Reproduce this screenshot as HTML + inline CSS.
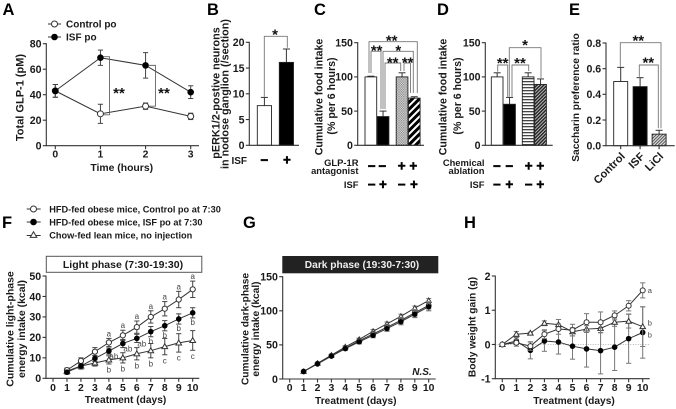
<!DOCTYPE html>
<html lang="en">
<head>
<meta charset="utf-8">
<title>Multi-panel figure</title>
<style>
html,body{margin:0;padding:0;background:#fff;width:676px;height:409px;overflow:hidden}
svg{display:block;filter:blur(.3px)}
text{font-family:"Liberation Sans",sans-serif;font-weight:bold;fill:#1a1a1a}
.ttl{font-size:10.6px}
.xt{font-size:10.2px;text-anchor:middle}
.let{font-size:16.5px;fill:#000}
.row{font-size:9.4px;text-anchor:end}
.sign{font-size:13.5px;text-anchor:middle;fill:#000;stroke:#000;stroke-width:.5px}
.star{font-size:15px;text-anchor:middle;fill:#111}
</style>
</head>
<body>
<svg id="figure" xmlns="http://www.w3.org/2000/svg" width="676" height="409" viewBox="0 0 676 409">
<defs>
<pattern id="pat-dots" width="2.4" height="2.4" patternUnits="userSpaceOnUse"><rect width="2.4" height="2.4" fill="#e4e4e4"/><rect width="1.2" height="1.2" fill="#777"/><rect x="1.2" y="1.2" width="1.2" height="1.2" fill="#888"/></pattern>
<pattern id="pat-diag-wide" width="5" height="5" patternUnits="userSpaceOnUse" patternTransform="rotate(45)"><rect width="5" height="5" fill="#fff"/><rect width="3" height="5" fill="#000"/></pattern>
<pattern id="pat-hlines" width="3" height="3" patternUnits="userSpaceOnUse"><rect width="3" height="3" fill="#fff"/><rect width="3" height="1.3" fill="#444"/></pattern>
<pattern id="pat-diag-dense" width="2.4" height="2.4" patternUnits="userSpaceOnUse" patternTransform="rotate(45)"><rect width="2.4" height="2.4" fill="#bbb"/><rect width="1.4" height="2.4" fill="#222"/></pattern>
<pattern id="pat-diag-gray" width="2.2" height="2.2" patternUnits="userSpaceOnUse" patternTransform="rotate(45)"><rect width="2.2" height="2.2" fill="#ddd"/><rect width="1" height="2.2" fill="#555"/></pattern>
</defs>

<text class="let" x="2.5" y="15">A</text>
<text class="let" x="207" y="15">B</text>
<text class="let" x="314" y="15">C</text>
<text class="let" x="437" y="15">D</text>
<text class="let" x="569" y="15">E</text>
<text class="let" x="2" y="228">F</text>
<text class="let" x="243" y="228">G</text>
<text class="let" x="464" y="228">H</text>

<text class="ttl" text-anchor="middle" transform="translate(23.5 97.5) rotate(-90)" style="font-size:11px">Total GLP-1 (pM)</text>
<text class="ttl" text-anchor="middle" x="121.7" y="171" style="font-size:10.4px">Time (hours)</text>
<text x="66" y="27.5" style="font-size:10px">Control po</text>
<text x="66" y="40.5" style="font-size:10px">ISF po</text>

<text class="ttl" text-anchor="middle" transform="translate(219.5 93) rotate(-90)" style="font-size:10.8px">pERK1/2-postive neurons</text>
<text class="ttl" text-anchor="middle" transform="translate(228.5 94) rotate(-90)" style="font-size:10.8px">in nodose ganglion (/section)</text>
<text class="row" x="247" y="164" style="font-size:10px">ISF</text>
<text class="sign" x="264.3" y="164.5">−</text>
<text class="sign" x="287" y="164.5">+</text>

<text class="ttl" text-anchor="middle" transform="translate(322.5 97) rotate(-90)">Cumulative food intake</text>
<text class="ttl" text-anchor="middle" transform="translate(335 96) rotate(-90)">(% per 6 hours)</text>
<text class="row" x="358.5" y="166">GLP-1R</text>
<text class="row" x="358.5" y="174">antagonist</text>
<text class="row" x="358.5" y="188">ISF</text>
<g>
<text class="sign" x="371.7" y="170.5">−</text><text class="sign" x="382.3" y="170.5">−</text><text class="sign" x="401.7" y="170.5">+</text><text class="sign" x="413.3" y="170.5">+</text>
<text class="sign" x="371.7" y="189">−</text><text class="sign" x="383" y="189">+</text><text class="sign" x="401.7" y="189">−</text><text class="sign" x="414" y="189">+</text>
</g>

<text class="ttl" text-anchor="middle" transform="translate(446.5 97) rotate(-90)">Cumulative food intake</text>
<text class="ttl" text-anchor="middle" transform="translate(461 96) rotate(-90)">(% per 6 hours)</text>
<text class="row" x="484.5" y="166">Chemical</text>
<text class="row" x="484.5" y="174">ablation</text>
<text class="row" x="484.5" y="188">ISF</text>
<g>
<text class="sign" x="497" y="170.5">−</text><text class="sign" x="509.3" y="170.5">−</text><text class="sign" x="528.7" y="170.5">+</text><text class="sign" x="540.3" y="170.5">+</text>
<text class="sign" x="497" y="189">−</text><text class="sign" x="509.3" y="189">+</text><text class="sign" x="528.7" y="189">−</text><text class="sign" x="540.3" y="189">+</text>
</g>

<text class="ttl" text-anchor="middle" transform="translate(579 97.5) rotate(-90)" style="font-size:10.2px">Saccharin preference ratio</text>

<text x="49.3" y="212.5" style="font-size:9.2px">HFD-fed obese mice, Control po at 7:30</text>
<text x="49.3" y="225.5" style="font-size:9.2px">HFD-fed obese mice, ISF po at 7:30</text>
<text x="49.3" y="238.5" style="font-size:9.2px">Chow-fed lean mice, no injection</text>

<rect x="46.3" y="256.3" width="155.5" height="16" fill="#fff" stroke="#555" stroke-width="1"/>
<text text-anchor="middle" x="123" y="268" style="font-size:10.5px">Light phase (7:30-19:30)</text>
<text class="ttl" text-anchor="middle" transform="translate(13.5 329) rotate(-90)" style="font-size:10.5px">Cumulative light-phase</text>
<text class="ttl" text-anchor="middle" transform="translate(25 329) rotate(-90)" style="font-size:10.5px">energy intake (kcal)</text>
<text class="xt" x="125.5" y="403">Treatment (days)</text>

<rect x="282.3" y="256" width="156" height="17.3" fill="#222"/>
<text text-anchor="middle" x="362" y="268" style="font-size:10.2px;fill:#eee">Dark phase (19:30-7:30)</text>
<text class="ttl" text-anchor="middle" transform="translate(248.5 329) rotate(-90)" style="font-size:10.2px">Cumulative dark-phase</text>
<text class="ttl" text-anchor="middle" transform="translate(259 329) rotate(-90)" style="font-size:10.2px">energy intake (kcal)</text>
<text class="xt" x="355.8" y="404">Treatment (days)</text>
<text text-anchor="middle" x="422" y="375" style="font-size:10px;font-style:italic">N.S.</text>

<text class="ttl" text-anchor="middle" transform="translate(475.5 327) rotate(-90)" style="font-size:10.2px">Body weight gain (g)</text>
<text class="xt" x="574" y="404">Treatment (days)</text>
</svg>

<script>
/* Panel A */
const aTimes = [0, 1, 2, 3];
const aControl = [43, 25, 31, 23];
const aControlErr = [5, 7.5, 2.5, 2.5];
const aIsf = [43, 69, 63, 42];
const aIsfErr = [5, 6, 10, 5];
const aYTicks = [0, 20, 40, 60, 80];
/* Panel B */
const bValues = [7.7, 16.1];
const bErrors = [1.6, 2.6];
const bYTicks = [0, 5, 10, 15, 20];
/* Panel C */
const cValues = [100, 42, 100, 69];
const cErrors = [1, 8, 6, 2];
const cYTicks = [0, 50, 100, 150];
/* Panel D */
const dValues = [100, 60, 100, 89];
const dErrors = [6, 10, 6, 8];
const dYTicks = [0, 50, 100, 150];
/* Panel E */
const eCategories = ['Control', 'ISF', 'LiCl'];
const eValues = [0.5, 0.46, 0.09];
const eErrors = [0.11, 0.07, 0.03];
const eYTicks = ['0.0', '0.2', '0.4', '0.6', '0.8'];
/* Panel F */
const dayTicks = [0, 1, 2, 3, 4, 5, 6, 7, 8, 9, 10];
const fDays = [1, 2, 3, 4, 5, 6, 7, 8, 9, 10];
const fControl = [4, 8.5, 13, 17.5, 21, 25, 30, 34, 38.5, 43.5];
const fControlErr = [1, 1.5, 2, 2, 2.5, 3, 3, 3.5, 4, 4];
const fIsf = [3, 6, 9.7, 13.3, 17, 19.5, 22.8, 25.7, 29, 32];
const fIsfErr = [1, 1, 1.5, 1.5, 2, 2, 2.5, 2.5, 2.5, 2.5];
const fChow = [3.5, 6, 7.5, 9, 10, 12, 13.5, 15.5, 17.3, 18.5];
const fChowErr = [1, 1.5, 1.5, 2, 2.5, 3, 3.5, 4, 4.5, 4.8];
const fControlLetters = ['', '', '', 'a', 'a', 'a', 'a', 'a', 'a', 'a'];
const fIsfLetters = ['', '', '', 'ab', 'ab', 'ab', 'b', 'b', 'b', 'b'];
const fChowLetters = ['', '', '', 'b', 'b', 'b', 'b', 'c', 'c', 'c'];
const fYTicks = [0, 10, 20, 30, 40, 50];
/* Panel G */
const gControl = [11, 22.5, 34, 45, 56, 66, 76, 86, 97, 108];
const gControlErr = [1, 1.5, 2, 2.5, 3, 3.5, 4, 4.5, 5, 5.5];
const gIsf = [11, 22, 33.5, 44.5, 54.5, 64, 74, 84, 95, 106];
const gIsfErr = [1, 1.5, 2, 2.5, 3, 3.5, 4, 4.5, 5, 6];
const gChow = [11, 23, 35, 47, 58, 70, 81, 92, 104, 115];
const gChowErr = [1, 1, 1.5, 2, 2, 2.5, 2.5, 3, 3, 3];
const gYTicks = [0, 50, 100, 150];
/* Panel H */
const hControl = [0, 0.05, -0.05, 0.3, 0.45, 0.42, 0.65, 0.65, 0.85, 1.13, 1.58];
const hControlErr = [0, 0.1, 0.12, 0.13, 0.15, 0.17, 0.25, 0.3, 0.13, 0.15, 0.22];
const hIsf = [0, 0.1, -0.17, 0.1, 0.07, -0.05, -0.13, -0.18, -0.08, 0.17, 0.35];
const hIsfErr = [0, 0.1, 0.25, 0.3, 0.35, 0.38, 0.53, 0.68, 0.68, 0.72, 0.75];
const hChow = [0, 0.3, 0.33, 0.62, 0.58, 0.37, 0.45, 0.47, 0.65, 0.68, 0.52];
const hChowErr = [0, 0.08, 0.03, 0.07, 0.15, 0.12, 0.1, 0.13, 0.12, 0.2, 0.58];
const hYTicks = [-1, 0, 1, 2];

const svg = document.getElementById('figure');
const NS = 'http://www.w3.org/2000/svg';
const AXIS = '#333';
const GREY = '#777';

function make(parent, tag, attrs, name) {
  const el = document.createElementNS(NS, tag);
  for (const k in attrs) el.setAttribute(k, attrs[k]);
  
  
  parent.appendChild(el);
  return el;
}
function panel(name) {
  return make(svg, 'g', {}, name);
}
function line(g, x1, y1, x2, y2, color, w, name) {
  return make(g, 'line', { x1, y1, x2, y2, stroke: color, 'stroke-width': w }, name);
}
function label(g, x, y, str, size, anchor, name, extra) {
  const el = make(g, 'text', Object.assign({ x, y, 'font-size': size, 'text-anchor': anchor }, extra || {}), name);
  el.textContent = str;
  return el;
}
function linear(d0, d1, r0, r1) {
  return v => r0 + (v - d0) * (r1 - r0) / (d1 - d0);
}
function yAxis(g, x, sy, ticks, values, prefix) {
  const ys = values.map(sy);
  line(g, x, Math.min(...ys) - 0.5, x, Math.max(...ys) + 0.5, AXIS, 1.1, prefix + '-y-axis');
  ticks.forEach((t, i) => {
    line(g, x - 3.5, ys[i], x, ys[i], AXIS, 1.1, prefix + '-y-tick');
    label(g, x - 4.8, ys[i] + 3.8, t, 10.6, 'end', prefix + '-y-tick-label');
  });
}
function xAxisLine(g, x0, x1, y, prefix) {
  line(g, x0, y, x1, y, AXIS, 1.1, prefix + '-x-axis');
}
function xNumTicks(g, sx, y, ticks, base, prefix) {
  ticks.forEach(t => {
    line(g, sx(t), y, sx(t), y + 3.5, AXIS, 1.1, prefix + '-x-tick');
    label(g, sx(t), base, t, 10.4, 'middle', prefix + '-x-tick-label');
  });
}
function marker(g, type, x, y, r, name) {
  if (type === 'open') {
    return make(g, 'circle', { cx: x, cy: y, r, fill: '#fff', stroke: '#333', 'stroke-width': 1 }, name);
  }
  if (type === 'solid') {
    return make(g, 'circle', { cx: x, cy: y, r: r + 0.3, fill: '#000' }, name);
  }
  const pts = [[x, y - r * 1.1], [x + r * 1.1, y + r * 0.8], [x - r * 1.1, y + r * 0.8]].map(p => p.join(',')).join(' ');
  return make(g, 'polygon', { points: pts, fill: '#fff', stroke: '#333', 'stroke-width': 1 }, name);
}
function series(g, sx, sy, xs, vals, errs, type, r, name, errColor) {
  const pts = xs.map((x, i) => sx(x) + ',' + sy(vals[i])).join(' ');
  const col = errColor || '#444';
  xs.forEach((x, i) => {
    const px = sx(x);
    const t = sy(vals[i] + errs[i]);
    const b = sy(vals[i] - errs[i]);
    line(g, px, t, px, b, col, 1, name + '-error-bar');
    line(g, px - 2.6, t, px + 2.6, t, col, 1, name + '-error-cap');
    line(g, px - 2.6, b, px + 2.6, b, col, 1, name + '-error-cap');
  });
  make(g, 'polyline', { points: pts, fill: 'none', stroke: '#333', 'stroke-width': 1 }, name + '-line');
  xs.forEach((x, i) => {
    marker(g, type, sx(x), sy(vals[i]), r, name + '-point');
  });
}
function bars(g, sy, x0, w, slots, vals, errs, fills, prefix) {
  vals.forEach((v, i) => {
    const x = x0 + slots[i];
    const top = sy(v);
    const cx = x + w / 2;
    const t = sy(v + errs[i]);
    line(g, cx, top, cx, t, '#333', 1, prefix + '-error-bar');
    line(g, cx - 3.5, t, cx + 3.5, t, '#333', 1, prefix + '-error-cap');
    make(g, 'rect', { x, y: top, width: w, height: sy(0) - top, fill: fills[i], stroke: '#222', 'stroke-width': 0.9 }, prefix + '-bar');
  });
}
function bracket(g, x1, y1, top, x2, y2, name) {
  make(g, 'polyline', { points: [x1, y1, x1, top, x2, top, x2, y2].join(' '), fill: 'none', stroke: '#777', 'stroke-width': 0.9 }, name);
}
function star(g, x, y, s, name) {
  const el = make(g, 'text', { x, y: y + 8, class: 'star' }, name);
  el.textContent = s;
}

/* A */
{
  const g = panel('panel-a-chart');
  const sx = linear(0, 3, 55.3, 190.7);
  const sy = linear(0, 80, 145.7, 43.7);
  yAxis(g, 46.3, sy, aYTicks, aYTicks, 'a');
  xAxisLine(g, 46.3, 199, sy(0), 'a');
  xNumTicks(g, sx, sy(0), aTimes, 157.7, 'a');
  series(g, sx, sy, aTimes, aControl, aControlErr, 'open', 3, 'a-control');
  series(g, sx, sy, aTimes, aIsf, aIsfErr, 'solid', 3, 'a-isf');
  make(g, 'polyline', { points: [sx(1) + 3, sy(aIsf[1]) - 1, sx(1.2), sy(aIsf[1]) - 1, sx(1.2), sy(aControl[1]) + 1, sx(1) + 3, sy(aControl[1]) + 1].join(' '), fill: 'none', stroke: '#666', 'stroke-width': 0.9 }, 'a-bracket-1h');
  make(g, 'polyline', { points: [sx(2) + 3, sy(aIsf[2]), sx(2.22), sy(aIsf[2]), sx(2.22), sy(aControl[2]), sx(2) + 3, sy(aControl[2])].join(' '), fill: 'none', stroke: '#666', 'stroke-width': 0.9 }, 'a-bracket-2h');
  star(g, 119, 90, '**', 'a-significance-1h');
  star(g, 164, 90, '**', 'a-significance-2h');
  line(g, 48, 24, 61, 24, '#333', 1, 'a-legend-control-line');
  marker(g, 'open', 54.5, 24, 3, 'a-legend-control-marker');
  line(g, 48, 37, 61, 37, '#333', 1, 'a-legend-isf-line');
  marker(g, 'solid', 54.5, 37, 3, 'a-legend-isf-marker');
}
/* B */
{
  const g = panel('panel-b-chart');
  const sy = linear(0, 20, 145.3, 42.3);
  bars(g, sy, 257.3, 14.2, [0, 22], bValues, bErrors, ['#fff', '#000'], 'b');
  yAxis(g, 249.3, sy, bYTicks, bYTicks, 'b');
  xAxisLine(g, 249.3, 299, sy(0), 'b');
  bracket(g, 264.3, 96.7, 36.3, 287.3, 47.7, 'b-bracket');
  star(g, 275, 31.5, '*', 'b-significance');
}
/* C */
{
  const g = panel('panel-c-chart');
  const sy = linear(0, 150, 145.3, 42.7);
  bars(g, sy, 365, 11.7, [0, 12.2, 31.2, 43.4], cValues, cErrors, ['#fff', '#000', 'url(#pat-dots)', 'url(#pat-diag-wide)'], 'c');
  yAxis(g, 357.7, sy, cYTicks, cYTicks, 'c');
  xAxisLine(g, 357.7, 424, sy(0), 'c');
  bracket(g, 369, 73, 41.7, 417.3, 93, 'c-bracket-outer');
  bracket(g, 371, 73, 51.3, 381, 109, 'c-bracket-left');
  bracket(g, 383, 109, 51.3, 413.3, 93, 'c-bracket-mid');
  bracket(g, 385, 109, 63, 400.7, 71, 'c-bracket-inner-left');
  bracket(g, 404, 71, 63, 410.5, 93, 'c-bracket-inner-right');
  star(g, 391.7, 37.3, '**', 'c-significance-outer');
  star(g, 376.7, 47.7, '**', 'c-significance-left');
  star(g, 398.3, 47.7, '*', 'c-significance-mid');
  star(g, 392.7, 59.3, '**', 'c-significance-inner-left');
  star(g, 407.7, 59.3, '**', 'c-significance-inner-right');
}
/* D */
{
  const g = panel('panel-d-chart');
  const sy = linear(0, 150, 145.3, 42.7);
  bars(g, sy, 491.3, 11.7, [0, 12.4, 31, 43.4], dValues, dErrors, ['#fff', '#000', 'url(#pat-hlines)', 'url(#pat-diag-dense)'], 'd');
  yAxis(g, 485.3, sy, dYTicks, dYTicks, 'd');
  xAxisLine(g, 485.3, 552.7, sy(0), 'd');
  bracket(g, 509.3, 96.7, 47.7, 541, 78, 'd-bracket-top');
  bracket(g, 497.7, 71.7, 65, 507.7, 96.7, 'd-bracket-left');
  bracket(g, 512, 96.7, 65, 528.7, 71, 'd-bracket-right');
  star(g, 502.7, 60, '**', 'd-significance-left');
  star(g, 520, 60, '**', 'd-significance-right');
  star(g, 525, 42, '*', 'd-significance-top');
}
/* E */
{
  const g = panel('panel-e-chart');
  const sy = linear(0, 0.8, 145.7, 43);
  const slots = [0, 19.4, 38.4];
  bars(g, sy, 613.7, 14, slots, eValues, eErrors, ['#fff', '#000', 'url(#pat-diag-gray)'], 'e');
  yAxis(g, 606, sy, eYTicks, eYTicks.map(Number), 'e');
  xAxisLine(g, 606, 674.7, sy(0), 'e');
  eCategories.forEach((c, i) => {
    const cx = 613.7 + slots[i] + 7;
    line(g, cx, sy(0), cx, sy(0) + 3.5, AXIS, 1.1, 'e-x-tick');
    const x = cx + 5;
    const el = label(g, x, 157, c, 11, 'end', 'e-x-tick-label', { transform: 'rotate(-45 ' + x + ' 157)' });
    el.style.fontSize = '11px';
  });
  bracket(g, 620.3, 66.7, 42.7, 661, 128.3, 'e-bracket-outer');
  bracket(g, 639.3, 76.7, 65, 658.3, 128.3, 'e-bracket-inner');
  star(g, 638.3, 37.7, '**', 'e-significance-outer');
  star(g, 648.3, 59.3, '**', 'e-significance-inner');
}
/* F */
{
  const g = panel('panel-f-chart');
  const sx = linear(0, 10, 53, 192.7);
  const sy = linear(0, 50, 378.3, 276);
  yAxis(g, 46, sy, fYTicks, fYTicks, 'f');
  xAxisLine(g, 46, 199.3, sy(0), 'f');
  xNumTicks(g, sx, sy(0), dayTicks, 391, 'f');
  series(g, sx, sy, fDays, fChow, fChowErr, 'tri', 2.6, 'f-chow');
  series(g, sx, sy, fDays, fControl, fControlErr, 'open', 2.6, 'f-control');
  series(g, sx, sy, fDays, fIsf, fIsfErr, 'solid', 2.5, 'f-isf');
  fDays.forEach((d, i) => {
    if (fControlLetters[i]) {
      const el = label(g, sx(d), sy(fControl[i] + fControlErr[i]) - 2, fControlLetters[i], 8, 'middle', 'f-control-letter');
      el.style.cssText = 'font-weight:normal;fill:#444';
    }
    if (fIsfLetters[i]) {
      const ab = fIsfLetters[i] === 'ab';
      const el = label(g, sx(d) + (ab ? 5 : 0), ab ? sy(fIsf[i]) + 8 : sy(fIsf[i] - fIsfErr[i]) + 7, fIsfLetters[i], 8, 'middle', 'f-isf-letter');
      el.style.cssText = 'font-weight:normal;fill:#444';
    }
    if (fChowLetters[i]) {
      const el = label(g, sx(d), sy(fChow[i] - fChowErr[i]) + 8.5, fChowLetters[i], 8, 'middle', 'f-chow-letter');
      el.style.cssText = 'font-weight:normal;fill:#444';
    }
  });
  line(g, 26.7, 209, 40.7, 209, '#333', 1, 'f-legend-control-line');
  marker(g, 'open', 33.5, 209, 3, 'f-legend-control-marker');
  line(g, 26.7, 222, 40.7, 222, '#333', 1, 'f-legend-isf-line');
  marker(g, 'solid', 33.5, 222, 3, 'f-legend-isf-marker');
  line(g, 26.7, 235.5, 40.7, 235.5, '#333', 1, 'f-legend-chow-line');
  marker(g, 'tri', 33.5, 235, 3, 'f-legend-chow-marker');
}
/* G */
{
  const g = panel('panel-g-chart');
  const sx = linear(0, 10, 289.7, 428.7);
  const sy = linear(0, 150, 379, 276.7);
  yAxis(g, 282.7, sy, gYTicks, gYTicks, 'g');
  xAxisLine(g, 282.7, 435.7, sy(0), 'g');
  xNumTicks(g, sx, sy(0), dayTicks, 391, 'g');
  series(g, sx, sy, fDays, gChow, gChowErr, 'tri', 2.3, 'g-chow', '#888');
  series(g, sx, sy, fDays, gControl, gControlErr, 'open', 2.4, 'g-control', '#888');
  series(g, sx, sy, fDays, gIsf, gIsfErr, 'solid', 2.4, 'g-isf', '#666');
}
/* H */
{
  const g = panel('panel-h-chart');
  const sx = linear(0, 10, 502.3, 642.7);
  const sy = linear(-1, 2, 378.7, 276);
  make(g, 'line', { x1: 495.3, x2: 649.7, y1: sy(0), y2: sy(0), stroke: '#999', 'stroke-width': 0.7, 'stroke-dasharray': '1 1.5' }, 'h-zero-reference-line');
  yAxis(g, 495.3, sy, hYTicks, hYTicks, 'h');
  xAxisLine(g, 495.3, 649.7, sy(-1), 'h');
  xNumTicks(g, sx, sy(-1), dayTicks, 391, 'h');
  series(g, sx, sy, dayTicks, hIsf, hIsfErr, 'solid', 2.5, 'h-isf', GREY);
  series(g, sx, sy, dayTicks, hChow, hChowErr, 'tri', 2.5, 'h-chow', GREY);
  series(g, sx, sy, dayTicks, hControl, hControlErr, 'open', 2.5, 'h-control', GREY);
  const last = dayTicks.length - 1;
  [[hControl, 'a', 'h-control-letter', 2.5], [hChow, 'b', 'h-chow-letter', -1], [hIsf, 'b', 'h-isf-letter', 5]].forEach(s => {
    const el = label(g, sx(dayTicks[last]) + 5, sy(s[0][last]) + s[3], s[1], 7.5, 'start', s[2]);
    el.style.cssText = 'font-weight:normal;fill:#444';
  });
}
</script>
</body>
</html>
